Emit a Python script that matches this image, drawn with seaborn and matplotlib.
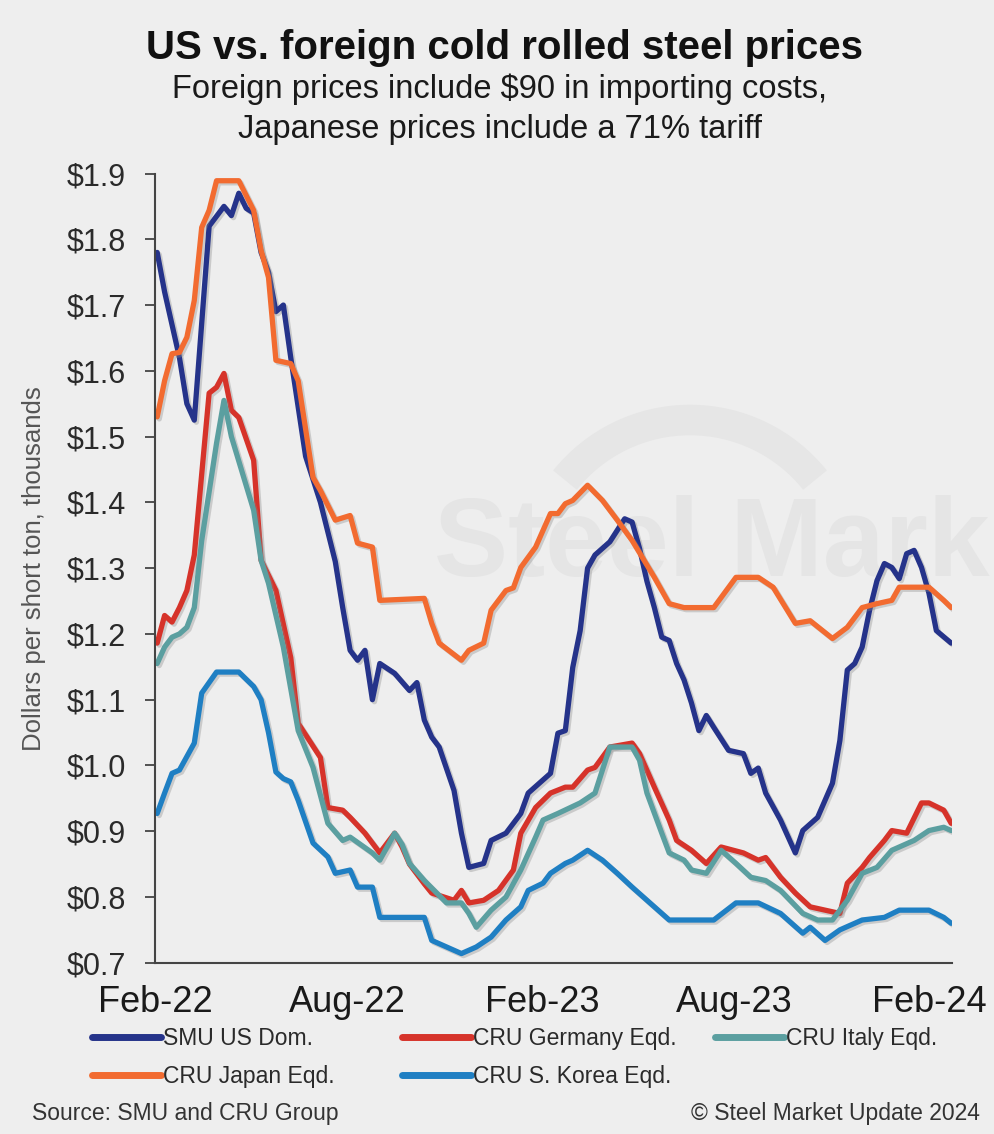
import numpy as np
import pandas as pd
import matplotlib
matplotlib.use("Agg")
import matplotlib.pyplot as plt
import matplotlib.dates as mdates
import matplotlib.patheffects as pe
from matplotlib.patches import Arc
import seaborn as sns

# weekly readings, week 0 = first week of Feb 2022
start_date = pd.Timestamp("2022-02-03")

smu_weeks = [0, 1, 3, 4, 5, 7, 9, 10, 11, 12, 13, 14, 15, 16, 17, 18, 20, 22, 24, 25,
             26, 27, 28, 29, 30, 32, 34, 35, 36, 37, 38, 40, 41, 42, 44, 45, 47, 49, 50, 52,
             53, 54, 55, 56, 57, 58, 59, 61, 63, 64, 65, 66, 67, 68, 69, 70, 71, 72, 73, 74,
             75, 77, 79, 80, 81, 82, 84, 86, 87, 89, 91, 92, 93, 94, 95, 96, 97, 98, 99, 100,
             101, 102, 103, 104, 105, 107]
smu_price = [1.78, 1.72, 1.62, 1.55, 1.525, 1.82, 1.85, 1.836, 1.87, 1.847, 1.84, 1.78, 1.75, 1.69, 1.70, 1.62, 1.47, 1.40, 1.31, 1.24,
             1.175, 1.16, 1.175, 1.10, 1.155, 1.14, 1.114, 1.126, 1.069, 1.043, 1.028, 0.962, 0.897, 0.845, 0.851, 0.886, 0.897, 0.927, 0.958, 0.978,
             0.988, 1.049, 1.053, 1.149, 1.205, 1.30, 1.32, 1.34, 1.375, 1.37, 1.33, 1.28, 1.24, 1.195, 1.19, 1.155, 1.13, 1.095, 1.053, 1.076,
             1.058, 1.023, 1.018, 0.988, 0.996, 0.958, 0.917, 0.867, 0.901, 0.921, 0.973, 1.038, 1.145, 1.155, 1.18, 1.236, 1.281, 1.307, 1.301, 1.284,
             1.322, 1.327, 1.301, 1.262, 1.205, 1.186]

germany_weeks = [0, 1, 2, 3, 4, 5, 7, 8, 9, 10, 11, 13, 14, 16, 18, 19, 22, 23, 25, 26,
                 28, 30, 32, 33, 34, 35, 36, 37, 40, 41, 42, 44, 46, 48, 49, 51, 53, 55, 56, 58,
                 59, 61, 64, 65, 67, 69, 70, 72, 74, 76, 79, 81, 82, 84, 86, 88, 90, 92, 93, 95,
                 96, 98, 99, 101, 103, 104, 106, 107]
germany_price = [1.186, 1.228, 1.218, 1.24, 1.266, 1.32, 1.566, 1.575, 1.596, 1.54, 1.529, 1.464, 1.312, 1.266, 1.164, 1.064, 1.012, 0.936, 0.932, 0.921,
                 0.897, 0.867, 0.897, 0.876, 0.85, 0.835, 0.82, 0.806, 0.795, 0.81, 0.791, 0.795, 0.81, 0.841, 0.897, 0.936, 0.958, 0.967, 0.967, 0.993,
                 0.997, 1.028, 1.034, 1.018, 0.967, 0.917, 0.886, 0.871, 0.851, 0.876, 0.867, 0.856, 0.86, 0.83, 0.806, 0.785, 0.78, 0.775, 0.821, 0.845,
                 0.86, 0.886, 0.901, 0.897, 0.943, 0.943, 0.932, 0.912]

italy_weeks = [0, 1, 2, 3, 4, 5, 6, 8, 9, 10, 13, 14, 15, 17, 19, 21, 23, 25, 26, 29,
               30, 32, 33, 34, 36, 39, 41, 42, 43, 45, 47, 49, 51, 52, 54, 57, 59, 60, 61, 64,
               65, 66, 68, 69, 71, 72, 74, 76, 78, 80, 82, 84, 87, 89, 91, 93, 95, 97, 99, 102,
               104, 106, 107]
italy_price = [1.155, 1.18, 1.195, 1.20, 1.21, 1.24, 1.342, 1.49, 1.555, 1.50, 1.388, 1.312, 1.277, 1.18, 1.053, 0.997, 0.912, 0.886, 0.891, 0.867,
               0.856, 0.897, 0.88, 0.851, 0.825, 0.791, 0.791, 0.775, 0.754, 0.78, 0.80, 0.841, 0.891, 0.917, 0.927, 0.943, 0.958, 0.993, 1.028, 1.028,
               1.008, 0.958, 0.897, 0.867, 0.856, 0.841, 0.836, 0.871, 0.851, 0.83, 0.825, 0.81, 0.775, 0.765, 0.765, 0.795, 0.836, 0.845, 0.871, 0.886,
               0.901, 0.906, 0.901]

japan_weeks = [0, 1, 2, 3, 4, 5, 6, 7, 8, 11, 13, 14, 15, 16, 18, 19, 21, 22, 24, 26,
               27, 29, 30, 36, 37, 38, 41, 42, 44, 45, 47, 48, 49, 51, 53, 54, 55, 56, 58, 60,
               62, 64, 67, 69, 71, 75, 78, 81, 83, 86, 88, 91, 93, 95, 97, 99, 100, 104, 106, 107]
japan_price = [1.53, 1.585, 1.626, 1.628, 1.651, 1.707, 1.818, 1.844, 1.889, 1.889, 1.844, 1.783, 1.742, 1.616, 1.611, 1.585, 1.438, 1.418, 1.373, 1.38,
               1.338, 1.332, 1.251, 1.254, 1.216, 1.186, 1.16, 1.175, 1.186, 1.236, 1.266, 1.27, 1.301, 1.332, 1.383, 1.383, 1.398, 1.403, 1.426, 1.403,
               1.373, 1.342, 1.286, 1.246, 1.24, 1.24, 1.286, 1.286, 1.271, 1.216, 1.22, 1.193, 1.21, 1.24, 1.246, 1.251, 1.271, 1.271, 1.251, 1.24]

korea_weeks = [0, 1, 2, 3, 5, 6, 8, 11, 13, 14, 15, 16, 17, 18, 19, 21, 23, 24, 26, 27,
               29, 30, 36, 37, 40, 41, 43, 45, 47, 49, 50, 52, 53, 55, 56, 58, 60, 62, 64, 66,
               69, 71, 75, 78, 81, 84, 87, 88, 90, 92, 95, 98, 100, 104, 106, 107]
korea_price = [0.927, 0.958, 0.988, 0.993, 1.034, 1.11, 1.142, 1.142, 1.12, 1.10, 1.05, 0.99, 0.98, 0.975, 0.947, 0.882, 0.861, 0.836, 0.841, 0.815,
               0.815, 0.769, 0.769, 0.734, 0.719, 0.714, 0.724, 0.739, 0.765, 0.785, 0.81, 0.821, 0.836, 0.851, 0.856, 0.871, 0.856, 0.836, 0.815, 0.795,
               0.765, 0.765, 0.765, 0.791, 0.791, 0.775, 0.745, 0.754, 0.734, 0.75, 0.765, 0.769, 0.78, 0.78, 0.769, 0.76]

series_names = ["SMU US Dom.", "CRU Germany Eqd.", "CRU Italy Eqd.", "CRU Japan Eqd.", "CRU S. Korea Eqd."]
series_weeks = [smu_weeks, germany_weeks, italy_weeks, japan_weeks, korea_weeks]
series_price = [smu_price, germany_price, italy_price, japan_price, korea_price]
series_colors = ["#25338A", "#D6332A", "#5B9FA0", "#F26B30", "#1F7FC3"]

frames = []
for name, weeks, price in zip(series_names, series_weeks, series_price):
    dates = start_date + pd.to_timedelta(np.array(weeks) * 7, unit="D")
    frames.append(pd.DataFrame({"date": dates, "price": price, "series": name}))
df = pd.concat(frames, ignore_index=True)

bg = "#EEEEEE"
sns.set_theme(style="white")
plt.rcParams["font.family"] = ["Liberation Sans", "DejaVu Sans"]

fig = plt.figure(figsize=(9.94, 11.34), dpi=100, facecolor=bg)
ax = fig.add_axes([0.156, 0.151, 0.802, 0.696])
ax.set_facecolor("none")

# faint watermark behind the lines
fig.text(0.437, 0.518, "Steel Mark", fontsize=80, fontweight="bold", color="#E5E5E5",
         ha="left", va="center", zorder=-5)
fig.add_artist(Arc((690 / 994, 1 - 580 / 1134), 320 / 994, 320 / 1134, theta1=35, theta2=145,
                   transform=fig.transFigure, color="#E6E6E6", linewidth=22, zorder=-5))

sns.lineplot(data=df, x="date", y="price", hue="series", hue_order=series_names,
             palette=dict(zip(series_names, series_colors)), estimator=None, sort=True,
             linewidth=3.8, legend=False, ax=ax)

for line in ax.lines:
    line.set_solid_capstyle("round")
    line.set_solid_joinstyle("round")
    line.set_path_effects([pe.SimpleLineShadow(offset=(1.5, -1.5), shadow_color="#888888", alpha=0.35),
                           pe.Normal()])

ax.set_ylim(0.7, 1.9)
ax.set_yticks(np.arange(0.7, 1.91, 0.1))
ax.yaxis.set_major_formatter(plt.FuncFormatter(lambda v, p: f"${v:.1f}"))
ax.set_xlim(pd.Timestamp("2022-02-01"), start_date + pd.Timedelta(days=7 * 107 + 1))
ax.xaxis.set_major_locator(mdates.MonthLocator(bymonth=[2, 8]))
ax.xaxis.set_major_formatter(mdates.DateFormatter("%b-%y"))

ax.tick_params(axis="y", which="major", left=True, length=7, width=1.3, color="#444444",
               labelsize=22, labelcolor="#2a2a2a", pad=14)
ax.tick_params(axis="x", which="major", bottom=False, length=0, labelsize=26,
               labelcolor="#1a1a1a", pad=16)
for s in ["top", "right"]:
    ax.spines[s].set_visible(False)
for s in ["left", "bottom"]:
    ax.spines[s].set_color("#444444")
    ax.spines[s].set_linewidth(1.5)

ax.set_xlabel("")
ax.set_ylabel("Dollars per short ton, thousands", fontsize=18.5, color="#555555")
ax.yaxis.set_label_coords(-0.137, 0.5)

fig.text(0.508, 0.958, "US vs. foreign cold rolled steel prices", ha="center", va="center",
         fontsize=29, fontweight="bold", color="#111111")
fig.text(0.503, 0.921, "Foreign prices include $90 in importing costs,", ha="center", va="center",
         fontsize=23.5, color="#1a1a1a")
fig.text(0.503, 0.886, "Japanese prices include a 71% tariff", ha="center", va="center",
         fontsize=23.5, color="#1a1a1a")

# legend: three single-column blocks, filled row by row like the original
handles = ax.lines
legend_cols = [([0, 3], 92), ([1, 4], 402), ([2], 715)]
for idx, x_px in legend_cols:
    leg = fig.legend([handles[i] for i in idx], [series_names[i] for i in idx],
                     ncol=1, loc="upper left", bbox_to_anchor=(x_px / 994, 0.0945), frameon=False,
                     fontsize=16.5, handlelength=3.0, handletextpad=0.1,
                     labelspacing=0.65, borderaxespad=0, borderpad=0)
    for h in leg.legend_handles:
        h.set_linewidth(5)
        h.set_path_effects([])
    for t in leg.get_texts():
        t.set_color("#2a2a2a")

fig.text(0.032, 0.018, "Source: SMU and CRU Group", ha="left", va="center", fontsize=16.5, color="#333333")
fig.text(0.986, 0.018, "\u00a9 Steel Market Update 2024", ha="right", va="center", fontsize=16.5, color="#333333")

fig.savefig("out.png", dpi=100, facecolor=bg)
